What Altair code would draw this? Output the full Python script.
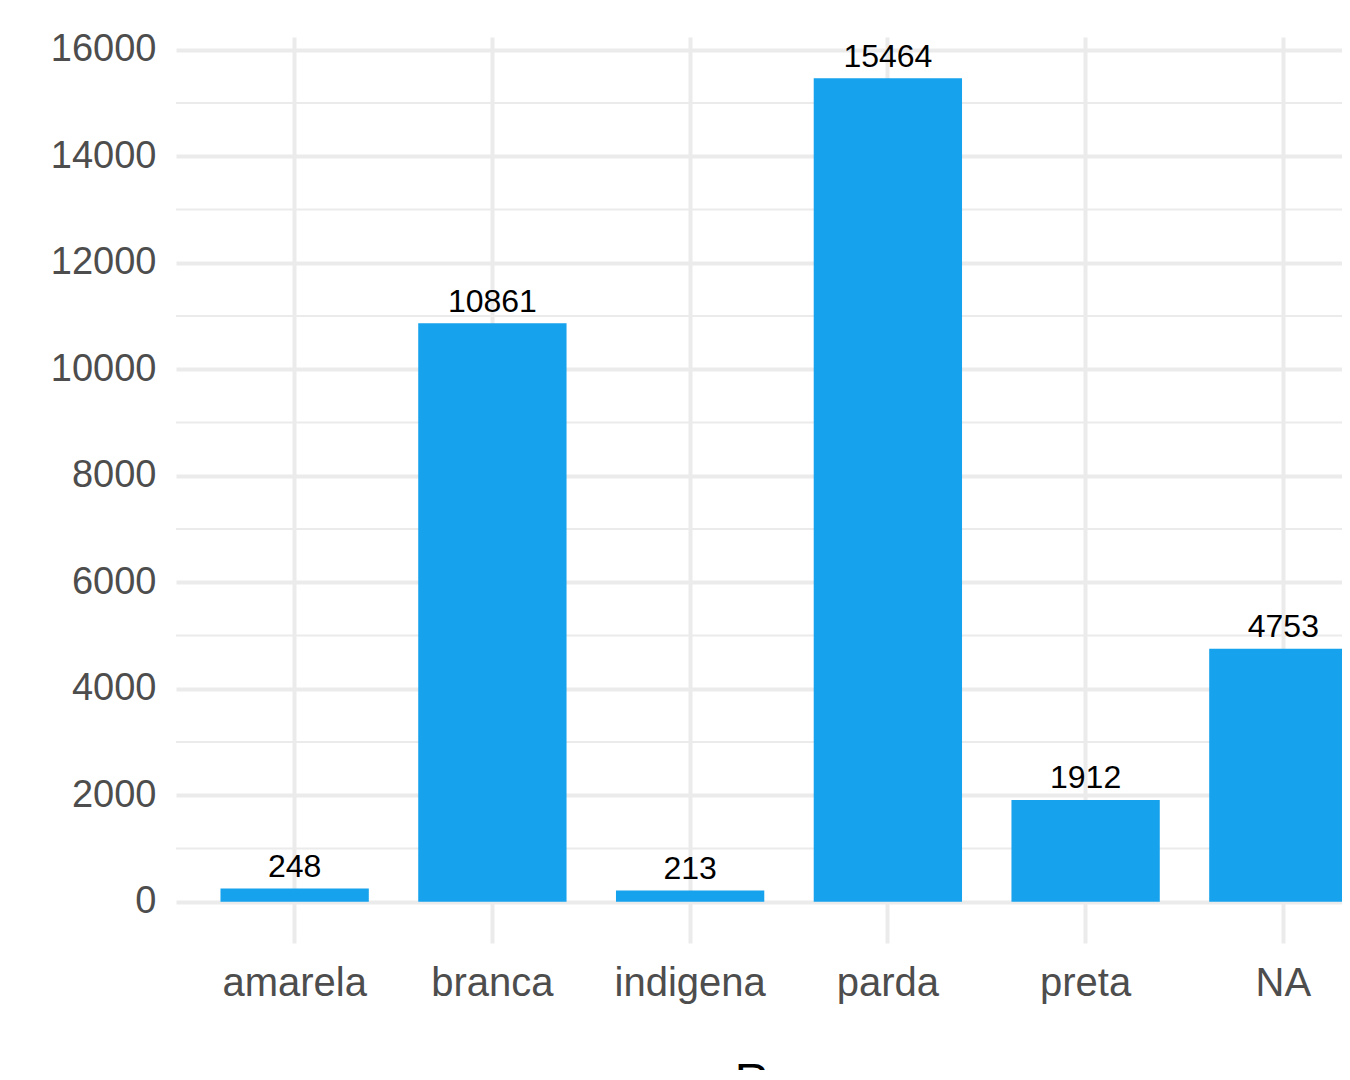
import altair as alt
import pandas as pd

categories = ["amarela", "branca", "indigena", "parda", "preta", "NA"]
counts = [248, 10861, 213, 15464, 1912, 4753]
major_ticks = [0, 2000, 4000, 6000, 8000, 10000, 12000, 14000, 16000]
minor_ticks = [1000, 3000, 5000, 7000, 9000, 11000, 13000, 15000]

df = pd.DataFrame({"raca": categories, "n": counts})
minor_df = pd.DataFrame({"v": minor_ticks})

FONT = "Liberation Sans"
ymax = max(counts)
pad = ymax * 0.05
yscale = alt.Scale(domain=[-pad, ymax + pad], nice=False, zero=False)
# full panel is 1226px wide; only the left part fits in the window
xscale = alt.Scale(paddingInner=0.25, paddingOuter=0.225, range=[0, 1226])

x_enc = alt.X(
    "raca:N", sort=categories, scale=xscale,
    axis=alt.Axis(
        title="Raça", grid=True, gridColor="#EBEBEB", gridWidth=4,
        domain=False, ticks=False, tickSize=0, bandPosition=0.5,
        labelFont=FONT, labelFontSize=40, labelColor="#4D4D4D",
        labelBaseline="alphabetic", labelPadding=52, labelAngle=0,
        titleFont=FONT, titleFontSize=47, titleColor="black",
        titleFontWeight="normal", titleBaseline="alphabetic", titleY=152,
    ),
)

minor = alt.Chart(minor_df).mark_rule(color="#EBEBEB", strokeWidth=2).encode(
    y=alt.Y("v:Q", scale=yscale)
)

bars = alt.Chart(df).mark_bar(color="#16A2EC", clip=True).encode(
    x=x_enc,
    y=alt.Y(
        "n:Q", scale=yscale,
        axis=alt.Axis(
            title=None, values=major_ticks, format="d", grid=True,
            gridColor="#EBEBEB", gridWidth=4, domain=False, ticks=False,
            tickSize=0, labelFont=FONT, labelFontSize=38,
            labelColor="#4D4D4D", labelPadding=20, labelBaseline="middle",
        ),
    ),
)

labels = alt.Chart(df).mark_text(
    baseline="alphabetic", dy=-11.5, font=FONT, fontSize=32, color="black"
).encode(
    x=alt.X("raca:N", sort=categories, scale=xscale),
    y=alt.Y("n:Q", scale=yscale),
    text=alt.Text("n:Q", format="d"),
)

chart = alt.layer(minor, bars, labels).properties(
    width=1166, height=906,
    autosize=alt.AutoSizeParams(type="none"),
    padding={"left": 168, "top": 29, "right": 0, "bottom": 127},
    background="white",
).configure_view(stroke=None)

chart.save("out.html", embed_options={"renderer": "svg", "actions": False})
